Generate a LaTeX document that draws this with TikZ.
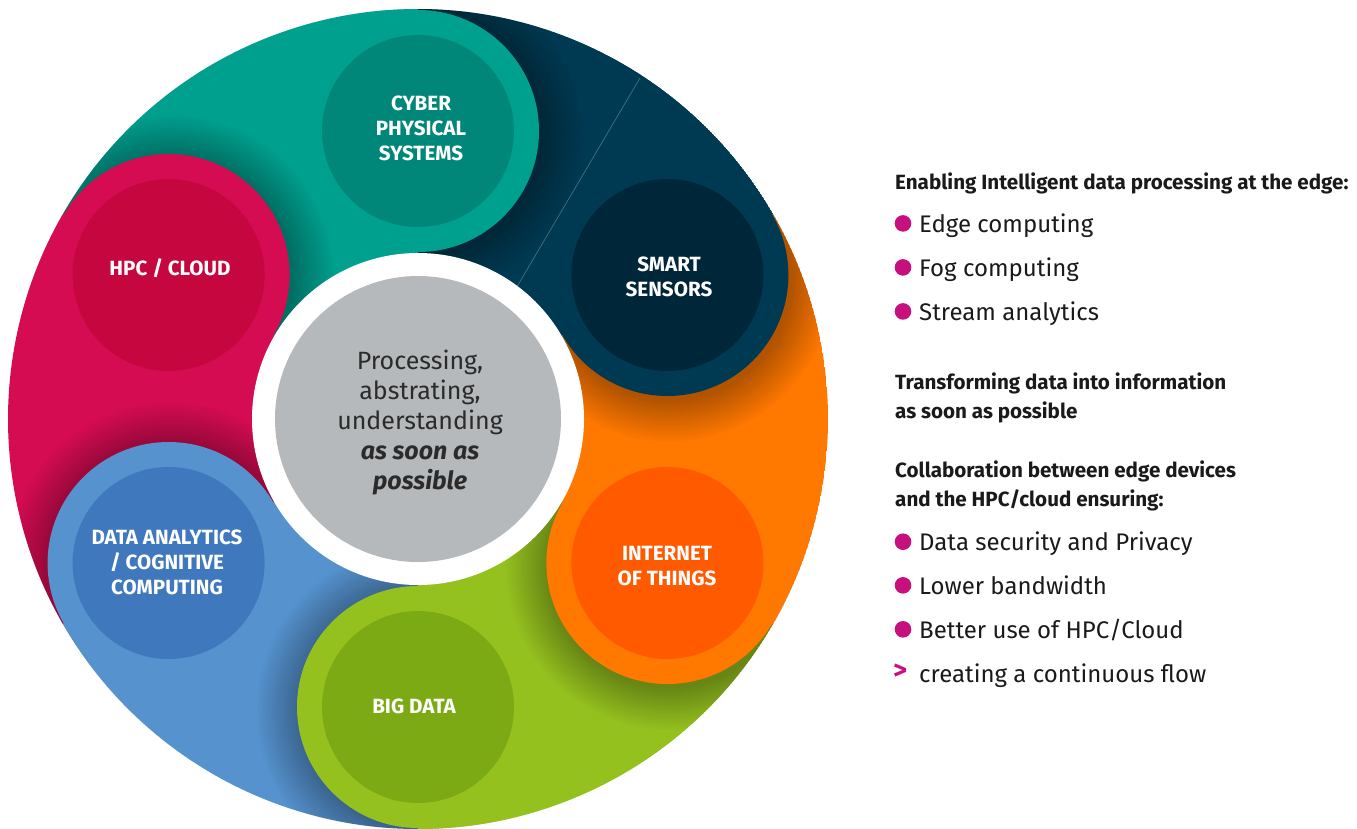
\documentclass[tikz,border=0pt]{standalone}
\usepackage{fontspec}
\setmainfont{Fira Sans}
\usetikzlibrary{fadings}
\pgfdeclareradialshading{shfadeshading}{\pgfpointorigin}{color(0bp)=(white); color(18.5bp)=(white); color(25bp)=(black); color(50bp)=(black)}
\pgfdeclarefading{shfade}{\pgfuseshading{shfadeshading}}
\definecolor{tealA}{HTML}{00A08F}\definecolor{tealB}{HTML}{00877A}
\definecolor{navyA}{HTML}{003A52}\definecolor{navyB}{HTML}{00263A}
\definecolor{orA}{HTML}{FF7800}\definecolor{orB}{HTML}{FF5A00}
\definecolor{grA}{HTML}{95C11F}\definecolor{grB}{HTML}{7BAA15}
\definecolor{blA}{HTML}{5592CE}\definecolor{blB}{HTML}{3F78BD}
\definecolor{rdA}{HTML}{D50C52}\definecolor{rdB}{HTML}{C6063E}
\definecolor{grayC}{HTML}{B5B9BC}
\definecolor{magB}{HTML}{C6107E}
\definecolor{txtD}{HTML}{1A1A1A}
\definecolor{txtC}{HTML}{2B2B2B}
\newcommand\segsector[2]{\fill[#1] (O) -- ++(#2:410) arc[start angle=#2, end angle=#2-60, radius=410] -- cycle;}
\newcommand\segdisc[4]{% outer, inner, x, y
  \fill[#1] (#3,#4) circle[radius=121];
  \fill[#2] (#3,#4) circle[radius=96];}
\newcommand\segshadow[2]{\fill[black, opacity=0.3, path fading=shfade] (#1+2,#2+3) circle[radius=164];}
\tikzset{
  disclabel/.style={text=white, align=center, font=\bfseries\fontsize{20.6}{25}\selectfont, inner sep=0},
  centertext/.style={text=txtC, align=center, font=\fontsize{25}{30}\selectfont, inner sep=0},
  headtext/.style={text=txtD, anchor=base west, font=\bfseries\fontsize{20.6}{24}\selectfont, inner sep=0},
  itemtext/.style={text=txtD, anchor=base west, font=\fontsize{24}{28}\selectfont, inner sep=0},
  bulletdot/.style={circle, fill=magB, minimum size=16.6pt, inner sep=0},
  chevron/.style={text=magB, anchor=base west, font=\bfseries\fontsize{27}{30}\selectfont, inner sep=0}
}
\begin{document}
\begin{tikzpicture}[x=1pt,y=-1pt]
\useasboundingbox (0,0) rectangle (1357,828);
\coordinate (O) at (418,419);
\begin{scope}
\clip (O) circle[radius=410];
% navy sector
\segsector{navyA}{-30}
% teal
\segshadow{418}{131}
\segsector{tealA}{-90}
\segdisc{tealA}{tealB}{418}{131}
% red
\segshadow{168.6}{275}
\segsector{rdA}{-150}
\segdisc{rdA}{rdB}{168.6}{275}
% blue
\segshadow{168.6}{563}
\segsector{blA}{-210}
\segdisc{blA}{blB}{168.6}{563}
% green
\segshadow{418}{707}
\segsector{grA}{-270}
\segdisc{grA}{grB}{418}{707}
% orange
\segshadow{667.4}{563}
\segsector{orA}{-330}
\segdisc{orA}{orB}{667.4}{563}
% navy disc on top of orange
\begin{scope}
\clip (O) -- ++(30:410) arc[start angle=30, end angle=-30, radius=410] -- cycle;
\segshadow{667.4}{275}
\end{scope}
\segdisc{navyA}{navyB}{667.4}{275}
% seam
\coordinate (s1) at (640,78);
\coordinate (s2) at (515,290);
\draw[white, opacity=0.3, line width=0.6pt] (s1) -- (s2);
\end{scope}
% centre
\fill[white] (O) circle[radius=166];
\fill[grayC] (O) circle[radius=143];
\node[centertext] (ctr) at (420,423) {Processing,\\abstrating,\\understanding\\\textbf{\textit{as soon as}}\\\textbf{\textit{possible}}};
% disc labels
\node[disclabel] (cps) at (421,128) {CYBER\\PHYSICAL\\SYSTEMS};
\node[disclabel] (ss) at (669,277) {SMART\\SENSORS};
\node[disclabel] (iot) at (667,566) {INTERNET\\OF THINGS};
\node[disclabel] (bd) at (414,706) {BIG DATA};
\node[disclabel] (da) at (167,562) {DATA ANALYTICS\\/ COGNITIVE\\COMPUTING};
\node[disclabel] (hpc) at (170,268) {HPC / CLOUD};
% right text
\node[headtext] (h1) at (895,189.3) {Enabling Intelligent data processing at the edge:};
\node[bulletdot] (b1) at (903,223.4) {};
\node[itemtext] (i1) at (919,232.7) {Edge computing};
\node[bulletdot] (b2) at (903,267.4) {};
\node[itemtext] (i2) at (919,276.7) {Fog computing};
\node[bulletdot] (b3) at (903,311.4) {};
\node[itemtext] (i3) at (919,320.7) {Stream analytics};
\node[headtext] (h2) at (895,389.3) {Transforming data into information};
\node[headtext] (h2b) at (895,418.3) {as soon as possible};
\node[headtext] (h3) at (895,477.3) {Collaboration between edge devices};
\node[headtext] (h3b) at (895,506) {and the HPC/cloud ensuring:};
\node[bulletdot] (b4) at (903,541.7) {};
\node[itemtext] (i4) at (919,550.4) {Data security and Privacy};
\node[bulletdot] (b5) at (903,585.3) {};
\node[itemtext] (i5) at (919,594) {Lower bandwidth};
\node[bulletdot] (b6) at (903,629.3) {};
\node[itemtext] (i6) at (919,638) {Better use of HPC/Cloud};
\node[chevron] (ch) at (893,679) {>};
\node[itemtext] (i7) at (919,682) {creating a continuous flow};
\end{tikzpicture}
\end{document}
